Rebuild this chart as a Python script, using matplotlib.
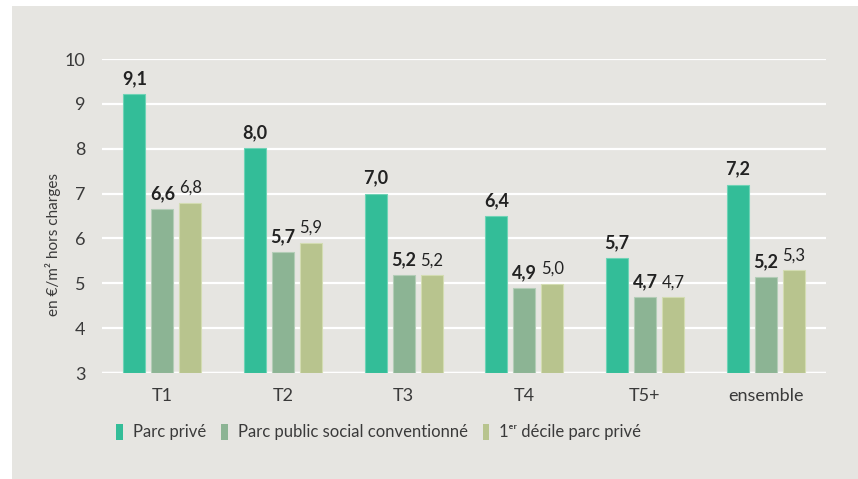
import numpy as np
import matplotlib
matplotlib.use('Agg')
import matplotlib.pyplot as plt
from matplotlib.patches import Rectangle

plt.rcParams['font.family'] = ['Lato', 'DejaVu Sans']

categories = ['T1', 'T2', 'T3', 'T4', 'T5+', 'ensemble']
series_names = ['Parc privé', 'Parc public social conventionné',
                '1ᵉʳ décile parc privé']

# bar heights as drawn in the picture
prive = [9.21, 8.01, 7.00, 6.49, 5.57, 7.20]
public = [6.65, 5.70, 5.18, 4.89, 4.69, 5.14]
decile = [6.80, 5.90, 5.18, 4.99, 4.69, 5.29]

# printed values
prive_lbl = ['9,1', '8,0', '7,0', '6,4', '5,7', '7,2']
public_lbl = ['6,6', '5,7', '5,2', '4,9', '4,7', '5,2']
decile_lbl = ['6,8', '5,9', '5,2', '5,0', '4,7', '5,3']

colors = ['#33bd98', '#8cb494', '#b8c48e']
edges = ['#6fd3b6', '#b3cdb7', '#d3dcb2']
bg = '#e6e5e1'
txt = '#3a3a3a'

fig = plt.figure(figsize=(8.58, 4.79), dpi=100, facecolor='white')
fig.patches.append(Rectangle((12/858, 0), 1, 1 - 6/479, transform=fig.transFigure,
                             facecolor=bg, edgecolor='none', zorder=-10))

ax = fig.add_axes([102/858, 1 - 373/479, 724/858, 314/479])
ax.set_facecolor(bg)

x = np.arange(len(categories))
w = 0.18
offsets = [-0.232, 0.0, 0.232]
all_vals = [prive, public, decile]
all_lbls = [prive_lbl, public_lbl, decile_lbl]
weights = ['bold', 'bold', 'normal']
sizes = [13, 13, 12]

for i in range(3):
    bars = ax.bar(x + offsets[i], np.array(all_vals[i]) - 3, w, bottom=3,
                  color=colors[i], edgecolor=edges[i], lw=0.8,
                  label=series_names[i], zorder=3)
    for b, lab in zip(bars, all_lbls[i]):
        ax.annotate(lab, (b.get_x() + b.get_width()/2, b.get_y() + b.get_height()),
                    xytext=(0, 5), textcoords='offset points', ha='center',
                    va='bottom', fontsize=sizes[i], fontweight=weights[i],
                    color='#222222')

ax.set_ylim(3, 10)
ax.set_xlim(-0.5, 5.5)
ax.set_yticks(range(3, 11))
ax.set_xticks(x)
ax.set_xticklabels(categories)
ax.yaxis.grid(True, color='white', lw=1.6, zorder=0)
ax.axhline(3, color='white', lw=2.5, zorder=2)
ax.tick_params(axis='both', length=0, labelsize=13, colors=txt)
ax.tick_params(axis='y', pad=12)
ax.tick_params(axis='x', pad=11)
for s in ax.spines.values():
    s.set_visible(False)

ax.set_ylabel('en €/m² hors charges', fontsize=11, color=txt)
ax.yaxis.set_label_coords(-0.057, 0.41)

leg = fig.legend(loc='center left', bbox_to_anchor=(116/858, 1 - 432/479),
                 ncol=3, frameon=False, fontsize=12, handlelength=0.4,
                 handleheight=1.1, handletextpad=0.6, columnspacing=0.9,
                 borderpad=0, borderaxespad=0)
for t in leg.get_texts():
    t.set_color(txt)
for h in leg.legend_handles:
    h.set_edgecolor('none')

fig.savefig('out.png', dpi=100, facecolor=fig.get_facecolor())
